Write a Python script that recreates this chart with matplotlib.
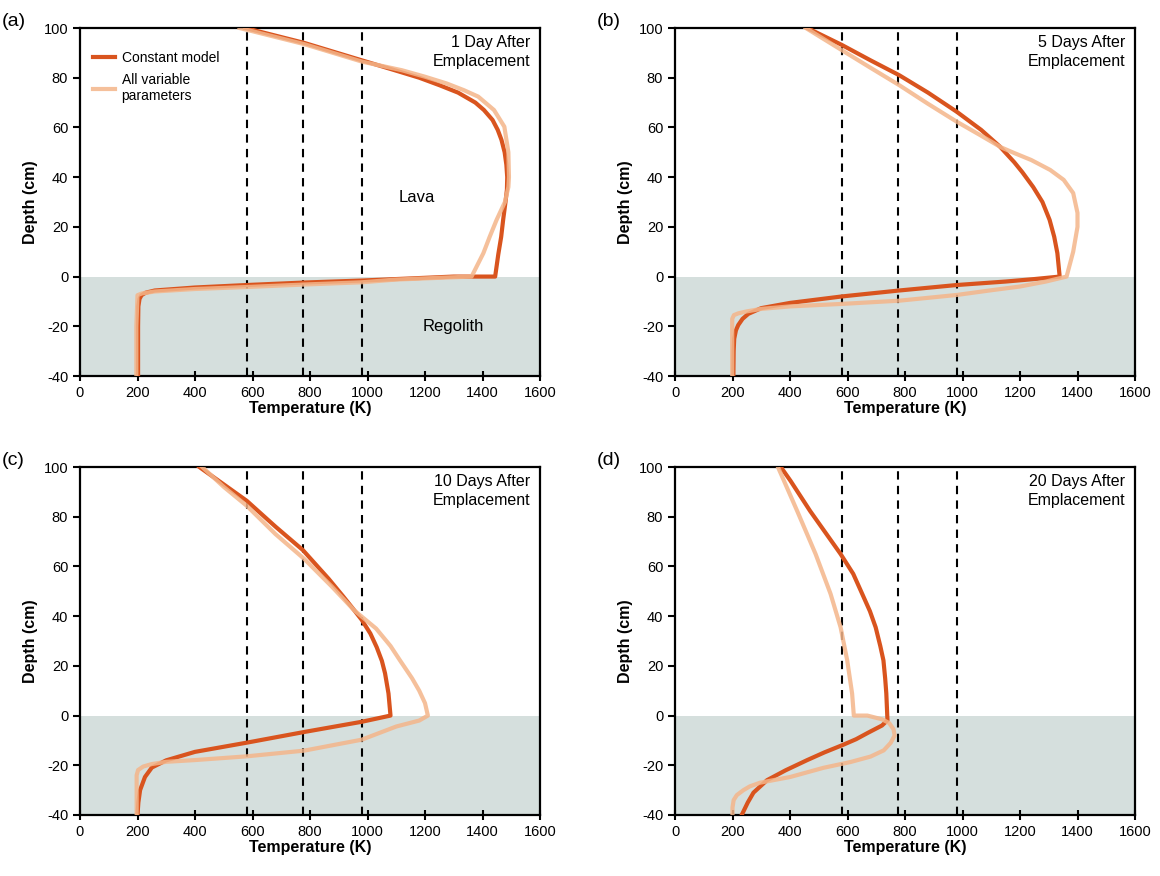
import matplotlib
matplotlib.use('Agg')
from matplotlib import pyplot as plt

plt.rcParams['font.family'] = ['Liberation Sans', 'DejaVu Sans']
plt.rcParams['axes.unicode_minus'] = False

# depth (cm) and temperature (K)
depth_const_a = [100, 94, 87, 83, 80, 77, 74, 70, 67, 63, 59, 55, 50, 45, 40, 35, 30, 23, 16, 9, 0,
                 0, -0.5, -1.6, -2.4, -3.4, -4.4, -5.6, -6.5, -7.5, -9, -12, -20, -40]
temp_const_a = [575, 780, 980, 1095, 1180, 1250, 1315, 1375, 1405, 1435, 1453, 1466, 1477, 1483, 1486, 1485, 1480, 1472, 1465, 1455, 1444,
                1300, 1200, 980, 780, 580, 400, 260, 228, 214, 207, 203, 202, 202]
depth_var_a = [100, 93.5, 86.5, 83, 80.4, 77.7, 75, 72.4, 67, 60.3, 50, 40, 36, 30, 22.8, 16, 9.4, 0,
               -0.5, -1.2, -2.3, -3.2, -4.2, -5, -6, -6.8, -7.5, -20, -40]
temp_var_a = [555, 780, 980, 1120, 1200, 1275, 1335, 1385, 1440, 1476, 1490, 1492, 1490, 1478, 1449, 1425, 1403, 1362,
              1250, 1100, 980, 780, 580, 400, 260, 215, 200, 196, 196]

depth_const_b = [100, 93.2, 87, 81, 74, 66.3, 59, 52.3, 46, 42, 36, 30, 22.8, 16, 9.4, 0,
                 -1, -2, -3.4, -5.6, -8, -10.6, -12.7, -15, -17, -19.5, -21.6, -25, -30, -40]
temp_const_b = [460, 580, 680, 780, 880, 980, 1065, 1130, 1180, 1208, 1246, 1278, 1303, 1319, 1330, 1338,
                1250, 1150, 980, 780, 580, 400, 300, 255, 235, 220, 212, 206, 204, 203]
depth_var_b = [100, 91.1, 84, 77, 69.5, 62.3, 57, 52, 49.7, 46.9, 42.9, 38.9, 33.6, 25.6, 20, 10, 0,
               -2, -4, -5.5, -7.4, -9.7, -11, -12, -13, -14, -14.8, -15.5, -17, -40]
temp_var_b = [455, 580, 680, 780, 880, 980, 1060, 1134, 1180, 1239, 1305, 1352, 1385, 1400, 1400, 1385, 1362,
              1290, 1200, 1100, 980, 780, 580, 400, 300, 250, 220, 205, 199, 199]

depth_const_c = [100, 93, 86.4, 76, 66.6, 55, 48, 42.2, 38.5, 33, 27.5, 22, 17, 8.9, 0,
                 -2.5, -6.6, -10.9, -14.6, -18, -20.9, -24.7, -30, -35, -40]
temp_const_c = [415, 500, 580, 680, 775, 865, 915, 955, 980, 1010, 1032, 1050, 1061, 1073, 1080,
                980, 780, 580, 400, 300, 250, 226, 209, 203, 200]
depth_var_c = [100, 92, 84.4, 73, 63, 52, 42.2, 35, 28, 22.2, 15, 10, 5, 0,
               -2, -4.4, -9.7, -14.1, -16.4, -17.9, -18.6, -19.5, -20.5, -21.9, -24, -40]
temp_var_c = [425, 500, 580, 680, 780, 875, 955, 1030, 1080, 1113, 1155, 1180, 1200, 1210,
              1180, 1100, 980, 780, 580, 400, 300, 250, 220, 202, 197, 197]

depth_const_d = [100, 94.4, 82.3, 65, 57, 49, 42, 35.5, 28, 22.2, 15, 8.9, -1.9,
                 -4, -7, -9.5, -11.9, -14.8, -17.9, -22, -26, -31, -35, -40]
temp_const_d = [368, 402, 470, 576, 620, 651, 678, 698, 714, 725, 731, 735, 739,
                720, 670, 630, 582, 520, 460, 385, 320, 273, 253, 232]
depth_var_d = [100, 82.3, 65, 49, 35.5, 22.2, 8.9, 0, 0, -1.5, -3, -5.5, -8, -11, -14, -16.5, -18.7, -21, -24.7,
               -27, -28.5, -30, -32, -34, -37, -40]
temp_var_d = [358, 425, 489, 541, 576, 599, 616, 622, 669, 720, 745, 760, 764, 750, 726, 680, 610, 517, 401,
              296, 260, 238, 215, 204, 200, 200]

panels = [
    ("(a)", "1 Day After\nEmplacement", temp_const_a, depth_const_a, temp_var_a, depth_var_a),
    ("(b)", "5 Days After\nEmplacement", temp_const_b, depth_const_b, temp_var_b, depth_var_b),
    ("(c)", "10 Days After\nEmplacement", temp_const_c, depth_const_c, temp_var_c, depth_var_c),
    ("(d)", "20 Days After\nEmplacement", temp_const_d, depth_const_d, temp_var_d, depth_var_d),
]
isotherms = [580, 775, 980]

dark = '#d9541e'
light = '#f4b58a'
regolith = '#d5dfdd'

fig = plt.figure(figsize=(11.6, 8.76), dpi=100)
boxes = [
    (80 / 1160, 1 - 376 / 876),
    (675 / 1160, 1 - 376 / 876),
    (80 / 1160, 1 - 815 / 876),
    (675 / 1160, 1 - 815 / 876),
]
w = 460 / 1160
h = 348 / 876

for (tag, note, tc, dc, tv, dv), (x0, y0) in zip(panels, boxes):
    ax = fig.add_axes([x0, y0, w, h])
    ax.axhspan(-40, 0, color=regolith, zorder=0, lw=0)
    for t in isotherms:
        ax.axvline(t, color='black', ls=(0, (4, 3)), lw=1.5, zorder=2)
    ax.plot(tc, dc, color=dark, lw=3, zorder=3, solid_joinstyle='round', label="Constant model")
    ax.plot(tv, dv, color=light, lw=3, alpha=0.85, zorder=4, solid_joinstyle='round',
            label="All variable\nparameters")
    ax.set_xlim(0, 1600)
    ax.set_ylim(-40, 100)
    ax.set_xticks(range(0, 1601, 200))
    ax.set_yticks(range(-40, 101, 20))
    ax.tick_params(axis='x', direction='inout', length=7, width=1.5, labelsize=10.5)
    ax.tick_params(axis='y', direction='out', length=5, width=1.5, labelsize=10.5)
    for s in ax.spines.values():
        s.set_linewidth(1.6)
    ax.set_xlabel("Temperature (K)", fontsize=11.5, fontweight='bold', labelpad=1)
    ax.set_ylabel("Depth (cm)", fontsize=11.5, fontweight='bold')
    ax.text(1565, 97, note, ha='right', va='top', fontsize=11.5, linespacing=1.3)
    ax.text(-0.17, 1.02, tag, transform=ax.transAxes, fontsize=14, ha='left', va='center')
    if tag == "(a)":
        ax.text(1170, 32, "Lava", fontsize=12, ha='center', va='center')
        ax.text(1300, -20, "Regolith", fontsize=12, ha='center', va='center')
        ax.legend(loc='upper left', bbox_to_anchor=(0.0, 0.97), frameon=False,
                  fontsize=10, handlelength=1.6, handletextpad=0.5, labelspacing=0.6)

plt.savefig("out.png", dpi=100)
